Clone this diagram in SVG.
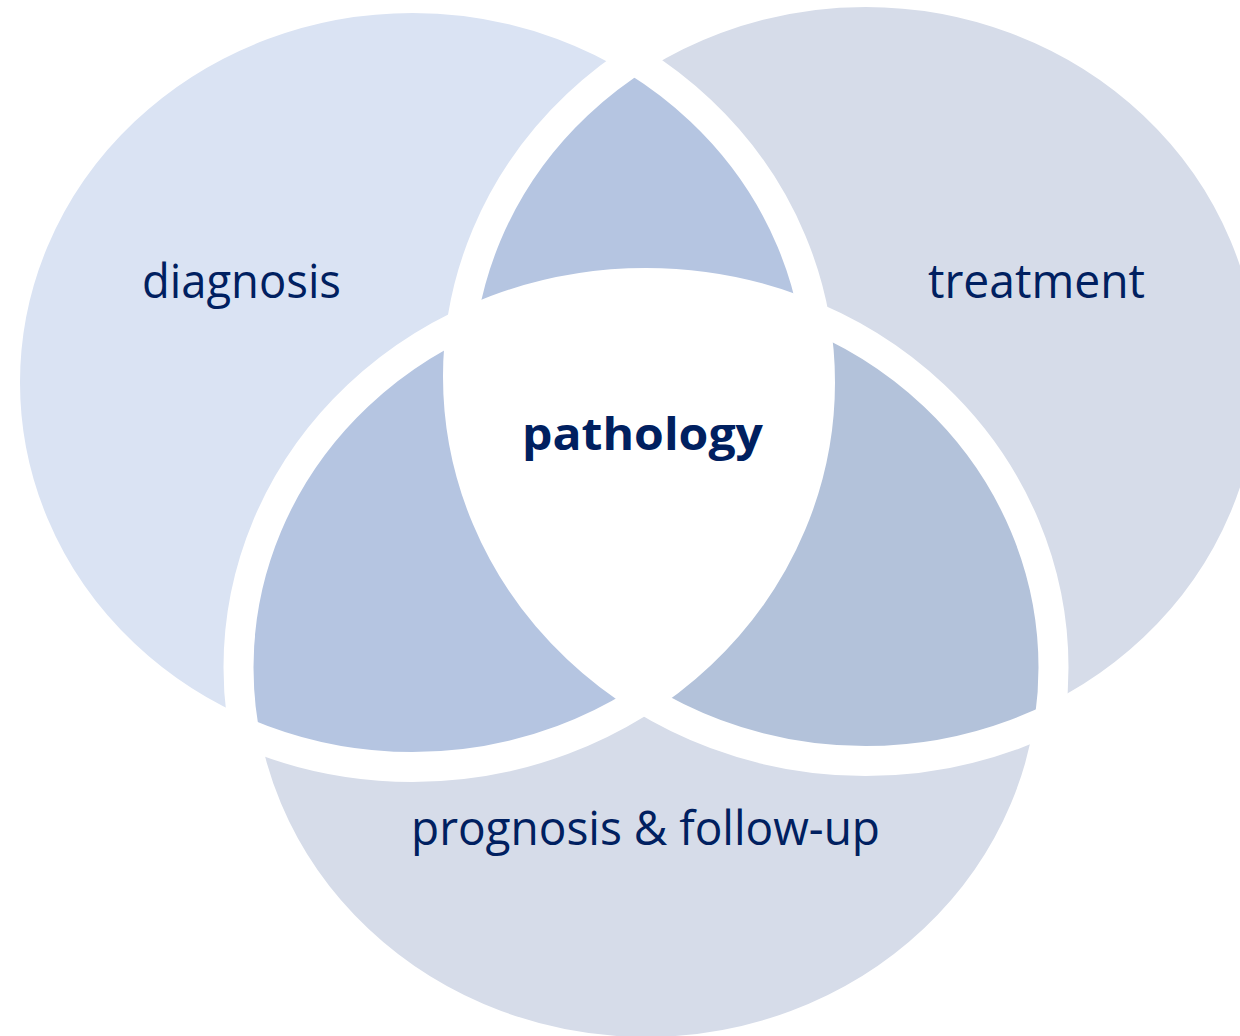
<svg xmlns="http://www.w3.org/2000/svg" width="1240" height="1036" viewBox="0 0 1240 1036">
<style>
.lbl{font-family:"Open Sans","Noto Sans","Liberation Sans",sans-serif;font-size:48px;fill:#002060}
.bold{font-weight:bold;font-size:44px}
.gap{fill:none;stroke:#ffffff;stroke-width:30}
</style>
<defs>
<ellipse id="eA" cx="412.5" cy="382.5" rx="407.5" ry="384.5"/>
<ellipse id="eB" cx="865.5" cy="376.5" rx="407.5" ry="384.5"/>
<ellipse id="eC" cx="646" cy="667.5" rx="407.5" ry="384.5"/>
<clipPath id="cA"><use href="#eA"/></clipPath>
<clipPath id="cB"><use href="#eB"/></clipPath>
</defs>
<rect width="1240" height="1036" fill="#ffffff"/>
<g id="diagnosis">
<use href="#eA" fill="#DAE3F3"/>
</g>
<g id="treatment">
<use href="#eB" fill="#D6DCE9"/>
</g>
<g id="prognosis">
<use href="#eC" fill="#D6DCE9"/>
</g>
<g id="overlaps">
<g clip-path="url(#cA)"><use href="#eB" fill="#B5C5E1"/></g>
<g clip-path="url(#cA)"><use href="#eC" fill="#B5C5E1"/></g>
<g clip-path="url(#cB)"><use href="#eC" fill="#B3C2DA"/></g>
<g clip-path="url(#cA)"><g clip-path="url(#cB)"><use href="#eC" fill="#ffffff"/></g></g>
</g>
<g id="gaps">
<use href="#eA" class="gap"/>
<use href="#eB" class="gap"/>
<use href="#eC" class="gap"/>
</g>
<g id="connectors"/>
<g id="labels">
<text id="t-diagnosis" class="lbl" x="142" y="298" textLength="199" lengthAdjust="spacingAndGlyphs">diagnosis</text>
<text id="t-treatment" class="lbl" x="928" y="298" textLength="217" lengthAdjust="spacingAndGlyphs">treatment</text>
<text id="t-pathology" class="lbl bold" x="522" y="450" textLength="241" lengthAdjust="spacingAndGlyphs">pathology</text>
<text id="t-prognosis" class="lbl" x="411" y="845" textLength="469" lengthAdjust="spacingAndGlyphs">prognosis &amp; follow-up</text>
</g>
</svg>
